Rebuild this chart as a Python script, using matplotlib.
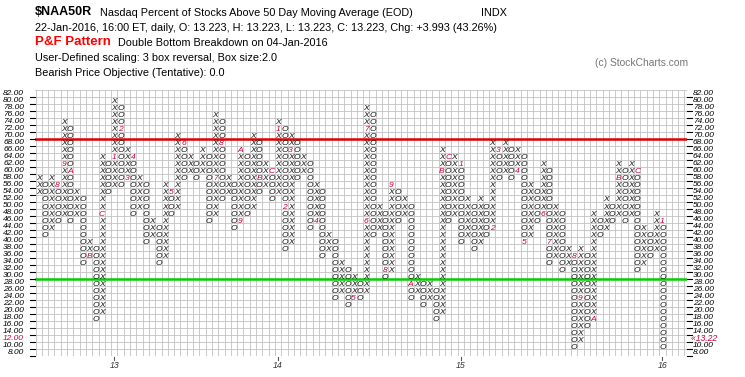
import matplotlib
matplotlib.use("Agg")
import matplotlib.pyplot as plt
from matplotlib.transforms import blended_transform_factory

# ---- P&F columns (box size 2, 3 box reversal) ----
col_types = list("XO" * 50)
col_lows = [54, 42, 44, 46, 48, 46, 48, 34, 36, 18,
            20, 54, 56, 56, 58, 48, 50, 40, 42, 34,
            36, 48, 50, 58, 60, 58, 60, 46, 48, 52,
            54, 44, 46, 48, 50, 54, 56, 52, 54, 38,
            40, 58, 60, 44, 46, 36, 38, 24, 26, 22,
            24, 24, 26, 42, 44, 30, 32, 46, 48, 24,
            26, 22, 24, 18, 20, 46, 48, 40, 42, 38,
            40, 42, 44, 58, 60, 58, 60, 40, 42, 46,
            48, 34, 36, 32, 34, 10, 12, 16, 18, 42,
            44, 46, 48, 46, 48, 32, 34, 36, 38, 10]
col_highs = [58, 56, 58, 56, 74, 72, 54, 52, 40, 38,
             64, 62, 80, 78, 66, 64, 58, 56, 46, 44,
             56, 54, 70, 68, 64, 62, 66, 64, 76, 74,
             58, 56, 66, 64, 70, 68, 62, 60, 74, 72,
             70, 68, 64, 62, 56, 54, 42, 40, 34, 32,
             30, 28, 78, 76, 50, 48, 56, 54, 52, 50,
             30, 28, 28, 26, 66, 64, 64, 62, 52, 50,
             52, 50, 68, 66, 68, 66, 66, 64, 56, 54,
             62, 60, 50, 48, 38, 36, 38, 36, 48, 46,
             52, 50, 62, 60, 62, 60, 44, 42, 48, 46]

# month markers: column, box value, label
month_cols = [3, 4, 5, 8, 10, 12, 13, 14, 15, 21, 23, 28, 29, 32, 32, 35, 37,
              38, 39, 40, 44, 50, 52, 52, 55, 56, 59, 64, 65, 67, 72, 73, 76,
              77, 80, 81, 85, 86, 88, 92, 95, 99]
month_vals = [56, 62, 60, 36, 48, 64, 72, 58, 64, 54, 68, 58, 68, 46, 66, 58, 60,
              72, 50, 66, 46, 24, 46, 72, 32, 56, 28, 60, 64, 62, 44, 66, 60,
              40, 48, 40, 36, 24, 18, 58, 60, 46]
month_labels = ["8", "9", "A", "B", "C", "1", "2", "3", "4", "5", "6", "7", "8", "9", "A", "B", "C",
                "1", "2", "3", "4", "5", "6", "7", "8", "9", "A", "B", "C", "1", "2", "3", "4",
                "5", "6", "7", "8", "9", "A", "B", "C", "1"]

year_cols = [12, 38, 67, 99]
year_labels = ["13", "14", "15", "16"]
price_levels = list(range(8, 84, 2))
last_price = 13.22

W, H = 745, 377
FONT = "Liberation Sans"
RED = "#cc0033"

fig = plt.figure(figsize=(W / 100, H / 100), dpi=100)
fig.patch.set_facecolor("white")

gx0, gx1, gy0, gy1 = 35, 687, 89.8, 356.2
colw = 6.3
ax = fig.add_axes([gx0 / W, 1 - gy1 / H, (gx1 - gx0) / W, (gy1 - gy0) / H])
xmax = (gx1 - gx0) / colw
ax.set_xlim(-0.08, xmax - 0.08)
ax.set_ylim(7, 83)
for s in ax.spines.values():
    s.set_visible(False)
ax.set_xticks([])
ax.set_yticks([])

# grid
for k in range(0, int(xmax) + 1):
    ax.axvline(k, color="#c2c2c2", lw=0.6, zorder=0)
for v in range(7, 84, 2):
    ax.axhline(v, color="#c2c2c2", lw=0.6, zorder=0)
ax.axvline(xmax - 0.08, color="#999999", lw=0.8)

ax.axhline(69, color="#e00000", lw=1.8, zorder=2)
ax.axhline(29, color="#00d000", lw=1.8, zorder=2)

# symbols
marks = {(c, v): lab for c, v, lab in zip(month_cols, month_vals, month_labels)}
fs = 6.1
cap = 0.716 * fs * 100 / 72 / ((gy1 - gy0) / 76)  # cap height in data units
for k, (t, lo, hi) in enumerate(zip(col_types, col_lows, col_highs)):
    for v in range(lo, hi + 1, 2):
        lab = marks.get((k, v))
        ax.text(k + 0.5, v - cap / 2, lab if lab else t, ha="center", va="baseline",
                fontsize=fs, style="italic", family=FONT,
                color=RED if lab else "#111111", zorder=3)

# price labels both sides
tl = blended_transform_factory(fig.transFigure, ax.transData)
for v in price_levels:
    col = RED if v == 12 else "black"
    fig.text(24 / W, v, f"{v:.2f}", transform=tl, ha="right", va="center",
             fontsize=6, style="italic", family=FONT, color=col)
    ax.plot([30 / W, 35 / W], [v - 1, v - 1], transform=tl, color="black",
            lw=0.8, clip_on=False)
    ax.plot([687 / W, 692 / W], [v - 1, v - 1], transform=tl, color="black",
            lw=0.8, clip_on=False)
    if v == 12:
        fig.text(691 / W, v, "\u2039\u2039%.2f" % last_price, transform=tl, ha="left",
                 va="center", fontsize=6.2, style="italic", family=FONT, color=RED)
    else:
        fig.text(693 / W, v, f"{v:.2f}", transform=tl, ha="left", va="center",
                 fontsize=6, style="italic", family=FONT, color="black")

# year labels
tb = blended_transform_factory(ax.transData, fig.transFigure)
for c, lab in zip(year_cols, year_labels):
    ax.plot([c + 0.5, c + 0.5], [1 - 356.5 / H, 1 - 360 / H], transform=tb,
            color="#555555", lw=0.8, clip_on=False)
    fig.text(c + 0.5, 1 - 366 / H, lab, transform=tb, ha="center", va="center",
             fontsize=6.3, style="italic", family=FONT, color="#333333")

# header
def ftxt(x, y, s, **kw):
    fig.text(x / W, 1 - y / H, s, va="center", ha="left", family=FONT, **kw)

ftxt(35, 12, "$NAA50R", fontsize=9, fontweight="bold")
ftxt(100, 12.5, "Nasdaq Percent of Stocks Above 50 Day Moving Average (EOD)", fontsize=7.8)
ftxt(481, 12.5, "INDX", fontsize=7.8)
ftxt(35, 28, "22-Jan-2016, 16:00 ET, daily, O: 13.223, H: 13.223, L: 13.223, "
     "C: 13.223, Chg: +3.993 (43.26%)", fontsize=7.8)
ftxt(35, 42, "P&F Pattern", fontsize=9.5, fontweight="bold", color="#ff0000")
ftxt(118, 42.5, "Double Bottom Breakdown on 04-Jan-2016", fontsize=7.8)
ftxt(35, 58, "User-Defined scaling: 3 box reversal, Box size:2.0", fontsize=7.8)
ftxt(35, 73, "Bearish Price Objective (Tentative): 0.0", fontsize=7.8)
ftxt(595, 63, "(c) StockCharts.com", fontsize=7.4, color="#777777")

fig.savefig("out.png", dpi=100)
